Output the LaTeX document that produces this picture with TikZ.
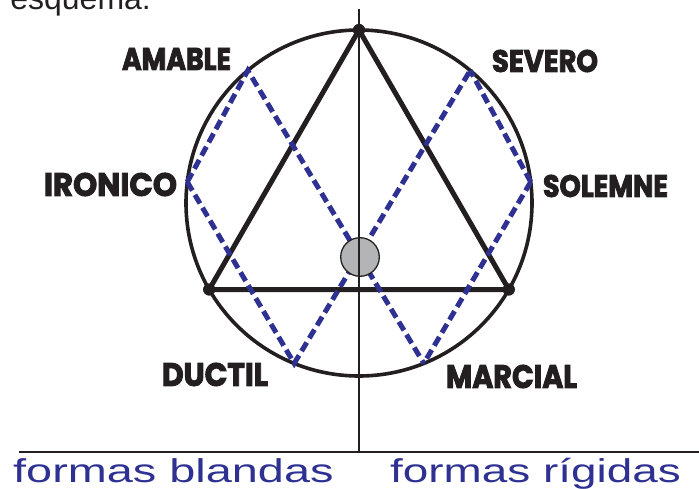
\documentclass[tikz,border=0pt]{standalone}
\usepackage{fontspec}
\setmainfont{Liberation Sans}
\newfontfamily\lab{Poppins}[BoldFeatures={FakeBold=3}]
\usetikzlibrary{calc}
\definecolor{ink}{HTML}{231F20}
\definecolor{navy}{HTML}{2E3192}
\definecolor{disc}{HTML}{B3B4B6}
\begin{document}
\begin{tikzpicture}[x=1pt,y=-1pt,
  lbl/.style={inner sep=0pt, text=ink, font=\lab\bfseries},
  dashline/.style={navy, line width=5pt, dash pattern=on 10pt off 5pt},
  vtx/.style={circle, fill=ink, inner sep=0pt, minimum size=12pt},
  thin/.style={ink, line width=1.5pt},
  bluetext/.style={inner sep=0pt, text=navy, anchor=base west}]
\useasboundingbox (0,0) rectangle (699,489);
\coordinate (C) at (359,203);
% axes
\coordinate (vtop) at (359,9);
\coordinate (cross) at (359,452);
\coordinate (hl) at (19,452);
\coordinate (hr) at (699,452);
% circle
\draw[ink, line width=3.6pt] (C) circle[radius=173pt];
% points on circle
\coordinate (pA) at ($(C)+(130:173pt)$);
\coordinate (pI) at ($(C)+(173:173pt)$);
\coordinate (pD) at ($(C)+(248:173pt)$);
\coordinate (pS) at ($(C)+(50:173pt)$);
\coordinate (pO) at ($(C)+(7:173pt)$);
\coordinate (pM) at ($(C)+(292:173pt)$);
% triangle
\node[vtx] (t1) at ($(C)+(90:173pt)$) {};
\node[vtx] (t2) at ($(C)+(210:173pt)$) {};
\node[vtx] (t3) at ($(C)+(330:173pt)$) {};
\draw[ink, line width=5pt, line join=round] (t1.center) -- (t2.center) -- (t3.center) -- cycle;
% dashed hexagram
\draw[dashline] (pI) -- (pA) -- (pM);
\draw[dashline] (pI) -- (pD) -- (pS);
\draw[dashline] (pO) -- (pS);
\draw[dashline] (pO) -- (pM);
% gray disc
\node[circle, fill=disc, draw=ink, line width=1.3pt, minimum size=38.6pt, inner sep=0pt] (g) at (360,257) {};
% axes lines
\draw[thin] (vtop) -- (cross);
\draw[thin] (hl) -- (hr);
\node[vtx] at (t1) {};
\node[vtx] at (t2) {};
\node[vtx] at (t3) {};
% labels
\node[lbl] (amable) at (176.5,59) {\resizebox{109pt}{22pt}{AMABLE}};
\node[lbl] (ironico) at (110.5,184.5) {\resizebox{133pt}{23pt}{IRONICO}};
\node[lbl] (severo) at (545,61) {\resizebox{106pt}{22pt}{SEVERO}};
\node[lbl] (solemne) at (605.5,186) {\resizebox{125pt}{22pt}{SOLEMNE}};
\node[lbl] (ductil) at (215,374.5) {\resizebox{106pt}{23pt}{DUCTIL}};
\node[lbl] (marcial) at (511.5,376.5) {\resizebox{131pt}{23pt}{MARCIAL}};
% blue captions
\node[bluetext] (blandas) at (13,482) {\scalebox{1.42}[1]{\fontsize{33pt}{33pt}\selectfont formas blandas}};
\node[bluetext] (rigidas) at (390,482) {\scalebox{1.39}[1]{\fontsize{33pt}{33pt}\selectfont formas rígidas}};
% cut-off heading, as in the reference
\node[inner sep=0pt, anchor=base west, text=ink] (head) at (-16.5,10) {\fontsize{32pt}{32pt}\selectfont e esquema:};
\end{tikzpicture}
\end{document}
